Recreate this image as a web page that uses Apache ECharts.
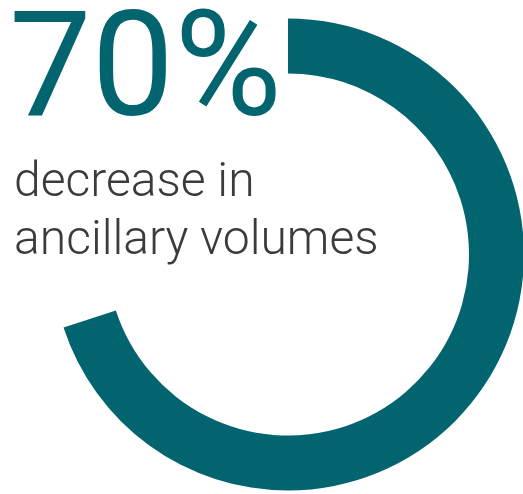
<!DOCTYPE html>
<html>
<head>
<meta charset="utf-8">
<script src="https://cdn.jsdelivr.net/npm/echarts@6/dist/echarts.min.js"></script>
<style>
  html, body { margin: 0; padding: 0; background: #ffffff; }
  #chart { width: 523px; height: 494px; }
</style>
</head>
<body>
<div id="chart"></div>
<script>
// Share of ancillary volume decrease, in percent
const decreasePct = 70;
const sliceNames = ['decrease', 'rest'];
const sliceValues = [decreasePct, 100 - decreasePct];
const headline = decreasePct + '%';
const captionLines = ['decrease in', 'ancillary volumes'];

const TEAL = '#02646F';
const GREY = '#3b3b3b';

const chart = echarts.init(document.getElementById('chart'), null, { renderer: 'canvas' });

chart.setOption({
  backgroundColor: '#ffffff',
  animation: false,
  series: [{
    type: 'pie',
    center: [288, 254.5],
    radius: [181, 236],
    startAngle: 90,
    clockwise: true,
    silent: true,
    label: { show: false },
    labelLine: { show: false },
    data: sliceNames.map((n, i) => ({
      name: n,
      value: sliceValues[i],
      itemStyle: { color: i === 0 ? TEAL : 'rgba(0,0,0,0)' }
    }))
  }],
  graphic: [
    {
      type: 'text',
      left: 9,
      top: 5,
      style: {
        text: headline,
        fill: TEAL,
        fontFamily: 'Roboto',
        fontWeight: 400,
        fontSize: 147
      }
    },
    {
      type: 'text',
      left: 14,
      top: 155,
      style: {
        text: captionLines.join('\n'),
        fill: GREY,
        fontFamily: 'Roboto',
        fontWeight: 300,
        fontSize: 48,
        lineHeight: 58
      }
    }
  ]
});
</script>
</body>
</html>
